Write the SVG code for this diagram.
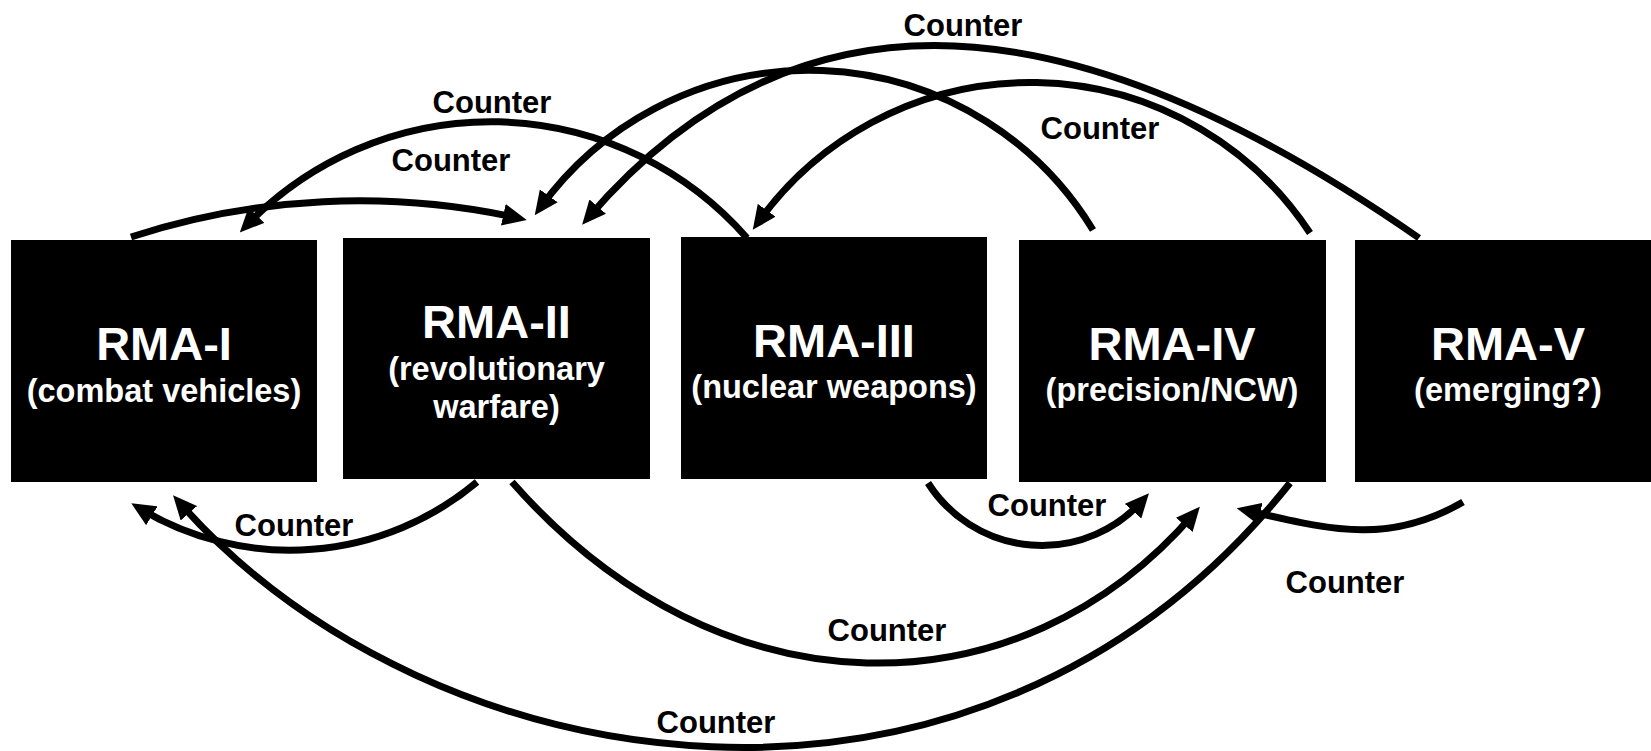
<svg xmlns="http://www.w3.org/2000/svg" width="1651" height="751" viewBox="0 0 1651 751">
<style>
.box{fill:#000}
.t{font-family:"Liberation Sans",Arial,sans-serif;font-weight:bold;fill:#fff;text-anchor:middle}
.h{font-size:47px}
.s{font-size:32.5px}
.c{fill:none;stroke:#000;stroke-width:7}
.l{font-family:"Liberation Sans",Arial,sans-serif;font-weight:bold;font-size:31px;fill:#000;text-anchor:middle}
</style>
<defs>
<marker id="ah" markerUnits="userSpaceOnUse" markerWidth="24" markerHeight="22" viewBox="0 0 24 22" refX="15" refY="11" orient="auto">
<path d="M0,0 L24,11 L0,22 z" fill="#000"/>
</marker>
</defs>
<rect width="1651" height="751" fill="#fff"/>
<g id="rma1">
<rect class="box" x="11" y="240" width="306" height="242"/>
<text class="t h" x="164" y="360">RMA-I</text>
<text class="t s" x="164" y="402">(combat vehicles)</text>
</g>
<g id="rma2">
<rect class="box" x="343" y="238" width="307" height="241"/>
<text class="t h" x="496.5" y="338">RMA-II</text>
<text class="t s" x="496.5" y="380">(revolutionary</text>
<text class="t s" x="496.5" y="418">warfare)</text>
</g>
<g id="rma3">
<rect class="box" x="681" y="237" width="306" height="242"/>
<text class="t h" x="834" y="357">RMA-III</text>
<text class="t s" x="834" y="398">(nuclear weapons)</text>
</g>
<g id="rma4">
<rect class="box" x="1019" y="240" width="307" height="242"/>
<text class="t h" x="1172" y="360">RMA-IV</text>
<text class="t s" x="1172" y="401">(precision/NCW)</text>
</g>
<g id="rma5">
<rect class="box" x="1355" y="240" width="306" height="242"/>
<text class="t h" x="1508" y="360">RMA-V</text>
<text class="t s" x="1508" y="401">(emerging?)</text>
</g>
<g id="connectors">
<path class="c" marker-end="url(#ah)" d="M131,237 A740,740 0 0 1 518,218"/>
<path class="c" marker-end="url(#ah)" d="M747,238 A340,340 0 0 0 246,226"/>
<path class="c" marker-end="url(#ah)" d="M1093,230 A332,332 0 0 0 540,208"/>
<path class="c" marker-end="url(#ah)" d="M1419,238 C1111,24 818,-50 588,218"/>
<path class="c" marker-end="url(#ah)" d="M1310,233 A335,335 0 0 0 758,222.5"/>
<path class="c" marker-end="url(#ah)" d="M477,482 A291,291 0 0 1 139,508"/>
<path class="c" marker-end="url(#ah)" d="M1290,483 C978,875 431,788 179,502"/>
<path class="c" marker-end="url(#ah)" d="M928,483 A135,135 0 0 0 1143,500"/>
<path class="c" marker-end="url(#ah)" d="M512,482 C722,721 1021,715 1194,513.5"/>
<path class="c" marker-end="url(#ah)" d="M1463,502 C1386,547 1324,528 1245.5,510.3"/>
</g>
<g id="labels">
<text class="l" x="451" y="171">Counter</text>
<text class="l" x="492" y="113">Counter</text>
<text class="l" x="963" y="36">Counter</text>
<text class="l" x="1100" y="139">Counter</text>
<text class="l" x="294" y="536">Counter</text>
<text class="l" x="1047" y="516">Counter</text>
<text class="l" x="887" y="641">Counter</text>
<text class="l" x="716" y="733">Counter</text>
<text class="l" x="1345" y="593">Counter</text>
</g>
</svg>
